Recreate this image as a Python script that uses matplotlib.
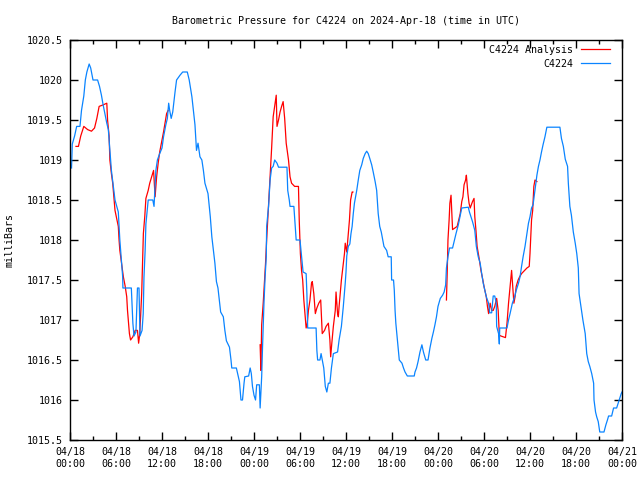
import matplotlib
matplotlib.use('Agg')
import matplotlib.pyplot as plt
import numpy as np

# Data: time in hours since 2024-04-18 00:00 UTC, pressure in mb
nan = np.nan
station_hours = [0.2, 0.3, 0.6, 0.87, 1.3, 1.5, 1.8, 2.0, 2.2, 2.5, 2.7, 3.0, 3.6, 3.85, 4.1, 4.3,
                 4.8, 5.0, 5.2, 5.4, 5.87, 6.3, 6.5, 6.7, 6.87, 6.9, 8.0, 8.2, 8.35, 8.6, 8.8, 9.0,
                 9.13, 9.4, 9.55, 9.65, 9.8, 9.9, 10.1, 10.2, 10.8, 10.96, 11.2, 11.4, 11.7, 12.0,
                 12.2, 12.5, 12.7, 12.87, 13.0, 13.2, 13.4, 13.7, 13.9, 14.35, 14.7, 15.3, 15.55,
                 15.9, 16.1, 16.3, 16.5, 16.7, 16.95, 17.2, 17.4, 17.6, 18.0, 18.3, 18.5, 18.7,
                 18.9, 19.1, 19.3, 19.65, 20.0, 20.2, 20.4, 20.8, 21.0, 21.1, 21.7, 22.1, 22.3,
                 22.5, 22.7, 22.8, 23.3, 23.5, 23.65, 23.8, 24.0, 24.2, 24.35, 24.7, 24.8, 25.0,
                 25.1, 25.3, 25.45, 25.6, 25.65, 25.9, 26.1, 26.3, 26.5, 26.7, 27.0, 27.2, 28.3,
                 28.4, 28.6, 28.7, 29.2, 29.5, 30.0, 30.2, 30.4, 30.8, 30.9, 31.0, 32.1, 32.2,
                 32.3, 32.6, 32.75, 32.9, 33.1, 33.3, 33.5, 33.7, 33.9, 34.1, 34.35, 34.9, 35.1,
                 35.4, 35.65, 35.9, 36.0, 36.1, 36.3, 36.5, 36.65, 36.8, 36.95, 37.1, 37.4, 37.6,
                 37.8, 38.05, 38.25, 38.5, 38.7, 38.9, 39.1, 39.35, 39.55, 39.8, 40.0, 40.2, 40.4,
                 40.6, 40.95, 41.3, 41.5, 41.9, 41.95, 42.2, 42.3, 42.4, 42.5, 42.7, 42.95, 43.3,
                 43.5, 43.7, 44.0, 44.9, 45.0, 45.2, 45.4, 45.65, 45.9, 46.1, 46.4, 46.7, 46.95,
                 47.2, 47.4, 47.6, 47.8, 48.0, 48.3, 48.6, 48.8, 49.0, 49.1, 49.3, 49.5, 49.9,
                 50.1, 50.35, 50.65, 50.9, 51.1, 51.95, 52.1, 52.3, 52.5, 52.8, 53.0, 53.25, 53.5,
                 53.7, 53.9, 54.3, 54.6, 54.75, 55.0, 55.2, 55.4, 55.6, 55.65, 55.9, 56.0, 56.05,
                 57.0, 57.2, 57.4, 57.7, 58.0, 58.2, 58.5, 58.7, 58.9, 59.1, 59.35, 59.6, 59.8,
                 60.0, 60.2, 60.4, 60.65, 60.9, 61.1, 61.3, 61.5, 61.7, 61.95, 62.2, 63.9, 64.1,
                 64.35, 64.6, 64.9, 65.0, 65.2, 65.4, 65.65, 65.9, 66.1, 66.3, 66.4, 66.6, 66.9,
                 67.2, 67.4, 67.6, 67.8, 68.05, 68.3, 68.35, 68.55, 68.7, 68.9, 69.1, 69.65, 69.9,
                 70.1, 70.25, 70.65, 70.9, 71.3, 71.7, 71.9, 72.0]
station_mb = [1018.9, 1019.2, 1019.3, 1019.42, 1019.42, 1019.62, 1019.8, 1020.0, 1020.1, 1020.2,
              1020.15, 1020.0, 1020.0, 1019.92, 1019.81, 1019.7, 1019.46, 1019.38, 1019.12,
              1018.87, 1018.5, 1018.35, 1018.0, 1017.75, 1017.54, 1017.4, 1017.4, 1016.96,
              1016.8, 1016.85, 1017.4, 1017.4, 1016.8, 1016.87, 1017.08, 1017.54, 1017.87,
              1018.2, 1018.4, 1018.5, 1018.5, 1018.42, 1018.87, 1019.0, 1019.08, 1019.15,
              1019.29, 1019.44, 1019.52, 1019.71, 1019.62, 1019.52, 1019.6, 1019.85, 1020.0,
              1020.06, 1020.1, 1020.1, 1020.0, 1019.79, 1019.62, 1019.44, 1019.12, 1019.21,
              1019.04, 1019.0, 1018.87, 1018.71, 1018.58, 1018.29, 1018.04, 1017.87, 1017.71,
              1017.48, 1017.4, 1017.1, 1017.04, 1016.87, 1016.74, 1016.66, 1016.5, 1016.4,
              1016.4, 1016.23, 1016.0, 1016.0, 1016.21, 1016.29, 1016.3, 1016.4, 1016.33,
              1016.17, 1016.06, 1016.0, 1016.19, 1016.19, 1015.9, 1016.29, 1016.62, 1017.21,
              1017.54, 1017.79, 1018.17, 1018.42, 1018.75, 1018.9, 1018.92, 1019.0, 1018.96,
              1018.91, 1018.91, 1018.62, 1018.5, 1018.42, 1018.42, 1018.0, 1018.0, 1017.8,
              1017.6, 1017.58, 1017.33, 1016.9, 1016.9, 1016.62, 1016.5, 1016.5, 1016.58,
              1016.5, 1016.4, 1016.17, 1016.1, 1016.21, 1016.21, 1016.4, 1016.58, 1016.6,
              1016.75, 1016.92, 1017.17, 1017.46, 1017.6, 1017.8, 1017.92, 1017.95, 1018.08,
              1018.17, 1018.33, 1018.46, 1018.62, 1018.75, 1018.87, 1018.94, 1019.02, 1019.08,
              1019.11, 1019.08, 1019.02, 1018.94, 1018.85, 1018.73, 1018.62, 1018.33, 1018.17,
              1018.1, 1017.92, 1017.87, 1017.79, 1017.79, 1017.5, 1017.5, 1017.37, 1017.12,
              1016.96, 1016.75, 1016.5, 1016.46, 1016.4, 1016.35, 1016.3, 1016.3, 1016.35,
              1016.4, 1016.48, 1016.6, 1016.69, 1016.6, 1016.5, 1016.5, 1016.65, 1016.77,
              1016.85, 1016.94, 1017.04, 1017.17, 1017.27, 1017.31, 1017.35, 1017.44, 1017.65,
              1017.79, 1017.9, 1017.9, 1017.98, 1018.08, 1018.19, 1018.31, 1018.4, 1018.41,
              1018.35, 1018.29, 1018.23, 1018.12, 1017.92, 1017.79, 1017.71, 1017.58, 1017.46,
              1017.29, 1017.21, 1017.09, 1017.09, 1017.3, 1017.3, 1017.21, 1016.92, 1016.83,
              1016.7, 1016.9, 1016.9, 1017.0, 1017.08, 1017.21, 1017.29, 1017.37, 1017.46,
              1017.54, 1017.67, 1017.79, 1017.92, 1018.08, 1018.21, 1018.29, 1018.4, 1018.44,
              1018.62, 1018.81, 1018.92, 1019.0, 1019.1, 1019.19, 1019.29, 1019.41, 1019.41,
              1019.27, 1019.17, 1019.01, 1018.92, 1018.71, 1018.42, 1018.31, 1018.1, 1017.96,
              1017.83, 1017.65, 1017.33, 1017.2, 1017.0, 1016.83, 1016.58, 1016.48, 1016.42,
              1016.33, 1016.21, 1016.0, 1015.85, 1015.79, 1015.73, 1015.6, 1015.6, 1015.69,
              1015.75, 1015.8, 1015.8, 1015.9, 1015.9, 1016.02, 1016.08, 1016.1]

analysis_hours = [0.78, 1.1, 1.4, 1.8, 2.3, 2.8, 3.2, 3.5, 3.8, 4.35, 4.8, 4.9, 5.1, 5.2, 5.4,
                  5.57, 5.87, 6.3, 6.4, 6.5, 6.96, 7.2, 7.4, 7.5, 7.75, 7.9, 8.2, 8.5, 8.8, 8.95,
                  9.1, 9.35, 9.57, 9.75, 9.9, 10.2, 10.4, 10.65, 10.9, 11.1, 11.3, 11.5, 11.7,
                  12.2, 12.6, 12.8, 18.0,
                  24.8, 24.9, 25.0, 25.2, 25.5, 25.65, 25.9, 26.2, 26.3, 26.5, 26.75, 26.9, 27.0,
                  27.2, 27.4, 27.6, 27.8, 28.0, 28.2, 28.5, 28.7, 28.9, 29.3, 29.8, 29.9, 30.05,
                  30.2, 30.35, 30.5, 30.65, 30.8, 30.95, 31.1, 31.3, 31.5, 31.6, 31.8, 32.0, 32.2,
                  32.45, 32.7, 32.9, 33.2, 33.4, 33.7, 33.9, 34.0, 34.15, 34.35, 34.6, 34.7, 34.9,
                  35.0, 35.1, 35.4, 35.65, 35.8, 35.9, 36.1, 36.3, 36.45, 36.6, 36.8, 36.9, 43.0,
                  49.1, 49.2, 49.3, 49.45, 49.55, 49.7, 49.9, 50.2, 50.5, 50.65, 50.9, 51.1, 51.25,
                  51.4, 51.6, 51.7, 51.9, 52.05, 52.2, 52.5, 52.7, 52.8, 52.95, 53.1, 53.4, 53.6,
                  53.85, 54.0, 54.3, 54.45, 54.6, 54.8, 55.0, 55.2, 55.4, 55.65, 55.85, 56.0, 56.2,
                  56.5, 56.8, 57.0, 57.2, 57.4, 57.6, 57.75, 57.9, 58.05, 58.2, 58.45, 58.65, 58.9,
                  59.1, 59.6, 59.9, 60.0, 60.1, 60.2, 60.35, 60.4, 60.5, 60.65, 60.9]
analysis_mb = [1019.17, 1019.17, 1019.3, 1019.42, 1019.38, 1019.36, 1019.4, 1019.52, 1019.67,
               1019.69, 1019.71, 1019.5, 1019.3, 1019.0, 1018.83, 1018.71, 1018.37, 1018.17,
               1018.0, 1017.87, 1017.54, 1017.42, 1017.29, 1017.12, 1016.83, 1016.75, 1016.79,
               1016.87, 1016.87, 1016.71, 1016.83, 1017.33, 1018.08, 1018.29, 1018.52, 1018.62,
               1018.71, 1018.79, 1018.87, 1018.54, 1018.79, 1018.96, 1019.1, 1019.35, 1019.58,
               1019.62, nan,
               1016.69, 1016.37, 1016.94, 1017.21, 1017.7, 1018.0, 1018.44, 1018.96, 1019.15,
               1019.54, 1019.71, 1019.81, 1019.42, 1019.5, 1019.6, 1019.67, 1019.73, 1019.52,
               1019.21, 1019.0, 1018.79, 1018.71, 1018.67, 1018.67, 1018.25, 1017.83, 1017.62,
               1017.5, 1017.25, 1017.08, 1016.9, 1016.96, 1017.12, 1017.25, 1017.46, 1017.48,
               1017.33, 1017.08, 1017.15, 1017.21, 1017.25, 1016.83, 1016.87, 1016.92, 1016.96,
               1016.75, 1016.54, 1016.71, 1016.92, 1017.12, 1017.35, 1017.08, 1017.04, 1017.17,
               1017.5, 1017.71, 1017.83, 1017.96, 1017.85, 1018.08, 1018.25, 1018.5, 1018.6,
               1018.6, nan,
               1017.25, 1017.58, 1018.0, 1018.25, 1018.46, 1018.56, 1018.13, 1018.15, 1018.17,
               1018.23, 1018.33, 1018.48, 1018.54, 1018.69, 1018.75, 1018.81, 1018.58, 1018.46,
               1018.4, 1018.48, 1018.52, 1018.29, 1018.12, 1017.92, 1017.75, 1017.62, 1017.5,
               1017.42, 1017.29, 1017.17, 1017.08, 1017.21, 1017.12, 1017.12, 1017.17, 1017.27,
               1017.12, 1016.81, 1016.8, 1016.79, 1016.78, 1016.96, 1017.21, 1017.42, 1017.62,
               1017.42, 1017.21, 1017.29, 1017.42, 1017.5, 1017.54, 1017.58, 1017.6, 1017.65,
               1017.67, 1017.83, 1018.04, 1018.25, 1018.37, 1018.48, 1018.67, 1018.75, 1018.73]

tick_hours = list(range(0, 73, 6))
tick_labels = ['04/18\n00:00', '04/18\n06:00', '04/18\n12:00', '04/18\n18:00',
               '04/19\n00:00', '04/19\n06:00', '04/19\n12:00', '04/19\n18:00',
               '04/20\n00:00', '04/20\n06:00', '04/20\n12:00', '04/20\n18:00',
               '04/21\n00:00']
y_ticks = [1015.5, 1016, 1016.5, 1017, 1017.5, 1018, 1018.5, 1019, 1019.5, 1020, 1020.5]

plt.rcParams['font.family'] = 'DejaVu Sans Mono'
plt.rcParams['font.size'] = 7.2

fig = plt.figure(figsize=(6.4, 4.8), dpi=100)
ax = fig.add_axes([70/640, 40/480, 552/640, 400/480])

ax.plot(analysis_hours, analysis_mb, color='#ff0000', lw=0.9, label='C4224 Analysis')
ax.plot(station_hours, station_mb, color='#0a84ff', lw=0.9, label='C4224')

ax.set_xlim(0, 72)
ax.set_ylim(1015.5, 1020.5)
ax.set_xticks(tick_hours)
ax.set_xticklabels(tick_labels, linespacing=1.3)
ax.set_xticks(np.arange(3, 72, 6), minor=True)
ax.set_yticks(y_ticks)
ax.set_yticklabels(['%g' % v for v in y_ticks])

ax.tick_params(which='both', direction='in', top=True, right=True, width=1)
ax.tick_params(which='major', length=6, pad=5)
ax.tick_params(which='minor', length=3)
ax.tick_params(axis='y', pad=5)
for s in ax.spines.values():
    s.set_linewidth(1)

ax.set_ylabel('milliBars')
ax.yaxis.set_label_coords(-0.101, 0.5)
ax.set_title('Barometric Pressure for C4224 on 2024-Apr-18 (time in UTC)',
             fontsize=7.2, pad=11.5)

ax.legend(loc='upper right', bbox_to_anchor=(0.9783, 0.9875), frameon=False,
          markerfirst=False, handlelength=2.9, handletextpad=0.8, labelspacing=0.4,
          borderaxespad=0, borderpad=0)

fig.savefig('out.png', dpi=100)
